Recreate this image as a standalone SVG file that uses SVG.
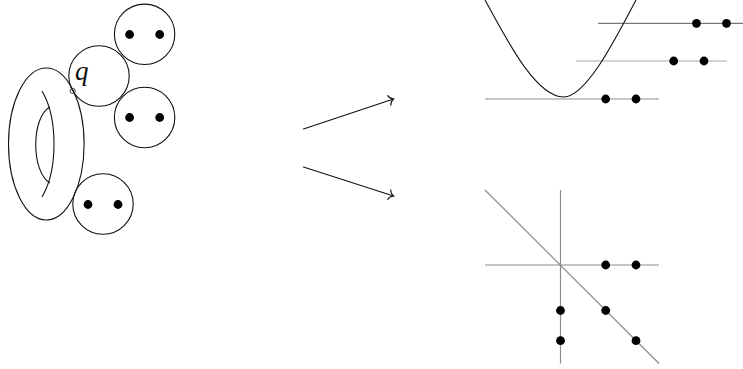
<svg xmlns="http://www.w3.org/2000/svg" width="743" height="369" viewBox="0 0 743 369">
<style>
.o{fill:none;stroke:#111;stroke-width:1.1}
.d{fill:#000}
.g{fill:none;stroke:#8c8c8c;stroke-width:1.2}
.a{fill:none;stroke:#111;stroke-width:1.1;stroke-linecap:round}
</style>
<defs>
<marker id="h" markerUnits="userSpaceOnUse" markerWidth="14" markerHeight="16" refX="8" refY="8" orient="auto">
<path d="M3.500 3Q4.500 6.500 8 8Q4.500 9.500 3.500 13" class="a"/>
</marker>
</defs>
<rect width="743" height="369" fill="#fff"/>
<g id="torus">
<ellipse cx="46.300" cy="144" rx="37.800" ry="76" class="o"/>
<path d="M42 91C58 118 58 170 42 197" class="o"/>
<path d="M50 107C31 117 31 172 50 183" class="o"/>
</g>
<g id="sphere-q">
<circle cx="99" cy="76" r="30.200" class="o"/>
<circle cx="72.700" cy="91" r="2.600" fill="none" stroke="#444" stroke-width="1"/>
<text x="75" y="80" font-family="'Liberation Serif',serif" font-style="italic" font-size="27" fill="#111">q</text>
</g>
<g id="sphere-top">
<circle cx="144.600" cy="34.300" r="30.200" class="o"/>
<circle cx="129.600" cy="34.500" r="4.400" class="d"/><circle cx="159.700" cy="34.500" r="4.400" class="d"/>
</g>
<g id="sphere-mid">
<circle cx="144.600" cy="117.500" r="30.200" class="o"/>
<circle cx="129.600" cy="117.500" r="4.400" class="d"/><circle cx="159.700" cy="117.500" r="4.400" class="d"/>
</g>
<g id="sphere-bottom">
<circle cx="103" cy="204" r="30.200" class="o"/>
<circle cx="88" cy="204.500" r="4.400" class="d"/><circle cx="118" cy="204.500" r="4.400" class="d"/>
</g>
<g id="connectors">
<path d="M303.500 129L393.500 99" class="a" marker-end="url(#h)"/>
<path d="M303.500 167L393.500 196" class="a" marker-end="url(#h)"/>
</g>
<g id="top-right">
<path d="M598 23.300H743" class="g" style="stroke:#777"/>
<path d="M576 61H727" class="g" style="stroke:#aaa"/>
<path d="M485 99H659" class="g" style="stroke:#b5b5b5;stroke-width:1.600"/>
<path d="M485 0C505 36 535 97 563.500 97C585 97 612 46 636 0" class="o"/>
<g class="d">
<circle cx="696.500" cy="23.300" r="4.400"/><circle cx="726.500" cy="23.300" r="4.400"/>
<circle cx="673.700" cy="61" r="4.400"/><circle cx="704" cy="61" r="4.400"/>
<circle cx="605.700" cy="99" r="4.400"/><circle cx="636" cy="99" r="4.400"/>
</g>
</g>
<g id="bottom-right">
<path d="M485 190L659 363.500" class="g"/>
<path d="M560.500 190V363.500" class="g"/>
<path d="M485 265H659" class="g"/>
<g class="d">
<circle cx="605.700" cy="265" r="4.400"/><circle cx="636" cy="265" r="4.400"/>
<circle cx="560.500" cy="310.500" r="4.400"/><circle cx="560.500" cy="340.700" r="4.400"/>
<circle cx="605.700" cy="310.500" r="4.400"/><circle cx="636" cy="340.700" r="4.400"/>
</g>
</g>
</svg>
